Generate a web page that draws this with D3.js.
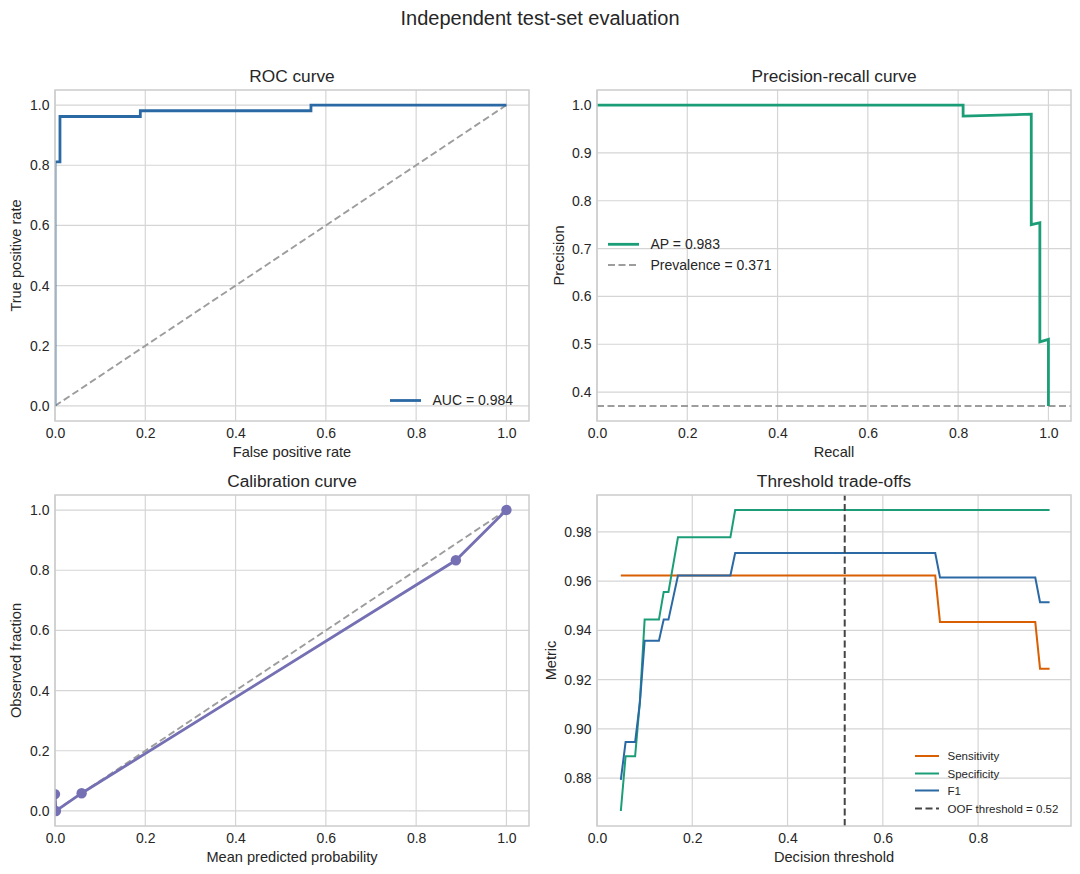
<!DOCTYPE html>
<html lang="en">
<head>
    <meta charset="utf-8">
    <title>Independent test-set evaluation</title>
    <script src="https://d3js.org/d3.v7.min.js"></script>
    <style>
        body {
            margin: 0;
            background: #ffffff;
        }

        svg text {
            font-family: "Liberation Sans", Arial, sans-serif;
            fill: #262626;
        }

        .grid line {
            stroke: #d5d5d5;
            stroke-width: 1.2;
        }

        .spine {
            fill: none;
            stroke: #cccccc;
            stroke-width: 1.5;
        }

        .tick-label {
            font-size: 14px;
        }

        .axis-label {
            font-size: 14.6px;
        }

        .panel-title {
            font-size: 17.3px;
        }
    </style>
</head>
<body>
<div id="chart"></div>

<script>
    // ROC curve (false positive rate vs true positive rate)
    var rocFpr = [0, 0, 0.011, 0.011, 0.189, 0.189, 0.567, 0.567, 1.0];
    var rocTpr = [0, 0.811, 0.811, 0.962, 0.962, 0.981, 0.981, 1.0, 1.0];
    var rocLabel = "AUC = 0.984";

    // precision-recall curve
    var prRecall = [0, 0.811, 0.811, 0.962, 0.962, 0.981, 0.981, 1.0, 1.0];
    var prPrecision = [1.0, 1.0, 0.977, 0.981, 0.750, 0.754, 0.505, 0.510, 0.371];
    var prLabel = "AP = 0.983";
    var prevalence = 0.371;
    var prevalenceLabel = "Prevalence = 0.371";

    // calibration curve
    var calPred = [0.0, 0.002, 0.059, 0.888, 1.0];
    var calObs = [0.056, 0.0, 0.059, 0.833, 1.0];

    // threshold trade-offs (vertices of each polyline)
    var sensThr = [0.05, 0.71, 0.72, 0.92, 0.93, 0.95];
    var sensVal = [0.9623, 0.9623, 0.9434, 0.9434, 0.9245, 0.9245];
    var specThr = [0.05, 0.06, 0.08, 0.09, 0.10, 0.13, 0.14, 0.15, 0.16, 0.17, 0.28, 0.29, 0.95];
    var specVal = [0.8667, 0.8889, 0.8889, 0.9111, 0.9444, 0.9444, 0.9556, 0.9556, 0.9667, 0.9778, 0.9778, 0.9889, 0.9889];
    var f1Thr = [0.05, 0.06, 0.08, 0.09, 0.10, 0.13, 0.14, 0.15, 0.17, 0.28, 0.29, 0.71, 0.72, 0.92, 0.93, 0.95];
    var f1Val = [0.8793, 0.8947, 0.8947, 0.9107, 0.9358, 0.9358, 0.9444, 0.9444, 0.9623, 0.9623, 0.9714, 0.9714, 0.9615, 0.9615, 0.9515, 0.9515];
    var oofThreshold = 0.52;
    var thrLegend = ["Sensitivity", "Specificity", "F1", "OOF threshold = 0.52"];

    // tick labels
    var unitTicks = [0, 0.2, 0.4, 0.6, 0.8, 1.0];
    var prYTicks = [0.4, 0.5, 0.6, 0.7, 0.8, 0.9, 1.0];
    var thrXTicks = [0, 0.2, 0.4, 0.6, 0.8];
    var thrYTicks = [0.88, 0.90, 0.92, 0.94, 0.96, 0.98];

    var blue = "#2b69a5";
    var green = "#1b9e77";
    var orange = "#d95f02";
    var purple = "#7570b3";
    var gray = "#9d9d9d";

    var w = 1080;
    var h = 874;

    var svg = d3.select("#chart")
        .append("svg")
        .attr("width", w)
        .attr("height", h);

    svg.append("text")
        .attr("x", w / 2)
        .attr("y", 25)
        .attr("text-anchor", "middle")
        .style("font-size", "20px")
        .text("Independent test-set evaluation");

    var clipId = 0;

    function makePanel(box, xDomain, yDomain, xTicks, yTicks, fmtX, fmtY, title, xLabel, yLabel, yLabelX) {
        var x = d3.scaleLinear().domain(xDomain).range([box.x0, box.x1]);
        var y = d3.scaleLinear().domain(yDomain).range([box.y1, box.y0]);
        var g = svg.append("g");

        var grid = g.append("g").attr("class", "grid");
        grid.selectAll(".gx")
            .data(xTicks)
            .enter()
            .append("line")
            .attr("x1", d => x(d))
            .attr("x2", d => x(d))
            .attr("y1", box.y0)
            .attr("y2", box.y1);
        grid.selectAll(".gy")
            .data(yTicks)
            .enter()
            .append("line")
            .attr("x1", box.x0)
            .attr("x2", box.x1)
            .attr("y1", d => y(d))
            .attr("y2", d => y(d));

        var xAxis = g.append("g")
            .attr("transform", `translate(0, ${box.y1})`)
            .call(d3.axisBottom(x).tickValues(xTicks).tickFormat(d3.format(fmtX)).tickSize(0).tickPadding(7.5));
        var yAxis = g.append("g")
            .attr("transform", `translate(${box.x0}, 0)`)
            .call(d3.axisLeft(y).tickValues(yTicks).tickFormat(d3.format(fmtY)).tickSize(0).tickPadding(5.5));
        [xAxis, yAxis].forEach(a => {
            a.select(".domain").remove();
            a.selectAll("text").attr("class", "tick-label").attr("fill", "#262626").style("font-family", null);
        });

        clipId += 1;
        svg.append("clipPath")
            .attr("id", "clip" + clipId)
            .append("rect")
            .attr("x", box.x0)
            .attr("y", box.y0)
            .attr("width", box.x1 - box.x0)
            .attr("height", box.y1 - box.y0);

        var plot = g.append("g").attr("clip-path", `url(#clip${clipId})`);

        g.append("text")
            .attr("class", "panel-title")
            .attr("x", (box.x0 + box.x1) / 2)
            .attr("y", box.y0 - 8)
            .attr("text-anchor", "middle")
            .text(title);

        g.append("text")
            .attr("class", "axis-label")
            .attr("x", (box.x0 + box.x1) / 2)
            .attr("y", box.y1 + 35.5)
            .attr("text-anchor", "middle")
            .text(xLabel);

        g.append("text")
            .attr("class", "axis-label")
            .attr("transform", `translate(${yLabelX}, ${(box.y0 + box.y1) / 2}) rotate(-90)`)
            .attr("text-anchor", "middle")
            .attr("dy", "0.35em")
            .text(yLabel);

        return {x: x, y: y, g: g, plot: plot, box: box};
    }

    function drawSpine(p) {
        p.g.append("rect")
            .attr("class", "spine")
            .attr("x", p.box.x0)
            .attr("y", p.box.y0)
            .attr("width", p.box.x1 - p.box.x0)
            .attr("height", p.box.y1 - p.box.y0);
    }

    function drawLine(p, xs, ys, color, width, dash) {
        var line = d3.line()
            .x(i => p.x(xs[i]))
            .y(i => p.y(ys[i]));
        p.plot.append("path")
            .datum(d3.range(xs.length))
            .attr("fill", "none")
            .attr("stroke", color)
            .attr("stroke-width", width)
            .attr("stroke-dasharray", dash || null)
            .attr("d", line);
    }

    function legendRow(p, x, y, color, width, dash, label, size, lineLen, gap) {
        p.g.append("line")
            .attr("x1", x)
            .attr("x2", x + lineLen)
            .attr("y1", y)
            .attr("y2", y)
            .attr("stroke", color)
            .attr("stroke-width", width)
            .attr("stroke-dasharray", dash || null);
        p.g.append("text")
            .attr("x", x + lineLen + gap)
            .attr("y", y)
            .attr("dy", "0.35em")
            .style("font-size", size + "px")
            .text(label);
    }

    // ROC curve
    var roc = makePanel({x0: 55, x1: 529, y0: 90, y1: 421}, [0, 1.05], [-0.05, 1.05],
        unitTicks, unitTicks, ".1f", ".1f", "ROC curve", "False positive rate", "True positive rate", 16);
    drawLine(roc, [0, 1], [0, 1], gray, 1.9, "7,3.5");
    drawLine(roc, rocFpr, rocTpr, blue, 2.8);
    drawSpine(roc);
    legendRow(roc, 390, 400.5, blue, 2.8, null, rocLabel, 14, 31, 11.5);

    // precision-recall curve
    var pr = makePanel({x0: 597, x1: 1071, y0: 90, y1: 421}, [0, 1.05], [0.3395, 1.0315],
        unitTicks, prYTicks, ".1f", ".1f", "Precision-recall curve", "Recall", "Precision", 559);
    drawLine(pr, [0, 1.05], [prevalence, prevalence], gray, 1.9, "7,3.5");
    drawLine(pr, prRecall, prPrecision, green, 2.8);
    drawSpine(pr);
    legendRow(pr, 608, 244.3, green, 2.8, null, prLabel, 14, 31, 11.5);
    legendRow(pr, 608, 265, gray, 1.9, "7,3.5", prevalenceLabel, 14, 31, 11.5);

    // calibration curve
    var cal = makePanel({x0: 55, x1: 529, y0: 495, y1: 826}, [0, 1.05], [-0.05, 1.05],
        unitTicks, unitTicks, ".1f", ".1f", "Calibration curve", "Mean predicted probability", "Observed fraction", 16);
    drawLine(cal, [0, 1], [0, 1], gray, 1.9, "7,3.5");
    drawLine(cal, calPred, calObs, purple, 2.8);
    cal.plot.selectAll(".dot")
        .data(d3.range(calPred.length))
        .enter()
        .append("circle")
        .attr("cx", i => cal.x(calPred[i]))
        .attr("cy", i => cal.y(calObs[i]))
        .attr("r", 5.2)
        .attr("fill", purple);
    drawSpine(cal);

    // threshold trade-offs
    var thr = makePanel({x0: 597, x1: 1071, y0: 495, y1: 826}, [0, 0.995], [0.8606, 0.9950],
        thrXTicks, thrYTicks, ".1f", ".2f", "Threshold trade-offs", "Decision threshold", "Metric", 551);
    drawLine(thr, sensThr, sensVal, orange, 2);
    drawLine(thr, specThr, specVal, green, 2);
    drawLine(thr, f1Thr, f1Val, blue, 2);
    drawLine(thr, [oofThreshold, oofThreshold], [0.8606, 0.9950], "#454545", 2, "7,3.5");
    drawSpine(thr);
    var thrColors = [orange, green, blue, "#454545"];
    var thrRows = [756, 773.5, 790.5, 808.5];
    thrLegend.forEach((label, i) => {
        legendRow(thr, 915, thrRows[i], thrColors[i], 2, i === 3 ? "7,3.5" : null, label, 11.5, 24, 8.5);
    });
</script>
</body>
</html>
